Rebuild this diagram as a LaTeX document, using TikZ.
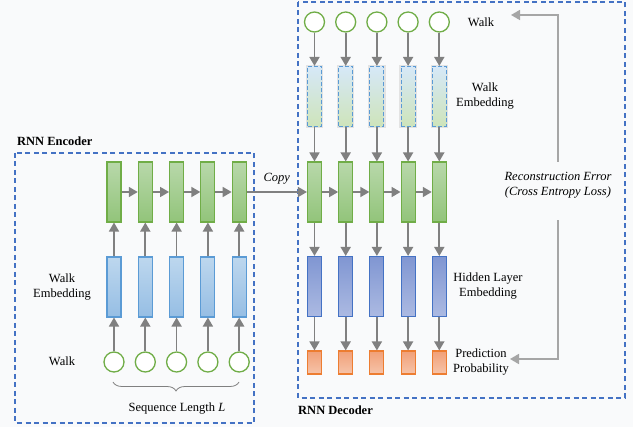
\documentclass[tikz,border=0pt]{standalone}
\usepackage{fontspec}
\setmainfont{Liberation Serif}
\usetikzlibrary{arrows.meta,decorations.pathreplacing,calc}
\definecolor{bg}{RGB}{249,250,251}
\definecolor{gbord}{RGB}{112,173,71}
\definecolor{gtop}{RGB}{184,216,170}
\definecolor{gbot}{RGB}{146,196,122}
\definecolor{bbord}{RGB}{91,155,213}
\definecolor{btop}{RGB}{189,215,238}
\definecolor{bbot}{RGB}{150,190,228}
\definecolor{hbord}{RGB}{68,114,196}
\definecolor{htop}{RGB}{128,150,210}
\definecolor{hbot}{RGB}{172,186,226}
\definecolor{obord}{RGB}{237,125,49}
\definecolor{otop}{RGB}{241,160,120}
\definecolor{obot}{RGB}{246,196,170}
\definecolor{etop}{RGB}{214,232,248}
\definecolor{ebot}{RGB}{206,228,186}
\definecolor{boxblue}{RGB}{68,114,196}
\definecolor{arrgray}{RGB}{128,128,128}
\definecolor{recgray}{RGB}{166,166,166}
\begin{document}
\begin{tikzpicture}[x=1pt,y=-1pt,
  every node/.style={font=\fontsize{12.5}{15}\selectfont},
  colbox/.style={rectangle, minimum width=14pt, minimum height=60pt, inner sep=0pt, line width=1.1pt},
  greenbox/.style={colbox, draw=gbord, top color=gtop, bottom color=gbot},
  bluebox/.style={colbox, draw=bbord, top color=btop, bottom color=bbot},
  hidbox/.style={colbox, draw=hbord, top color=htop, bottom color=hbot},
  embdash/.style={colbox, draw=bbord, dashed, dash pattern=on 4pt off 2pt, top color=etop, bottom color=ebot,
     preaction={draw=gray!22, line width=3.5pt, solid}},
  probbox/.style={colbox, minimum height=23pt, draw=obord, top color=otop, bottom color=obot},
  walkcirc/.style={circle, minimum size=20pt, inner sep=0pt, draw=gbord, line width=1.3pt, fill=white},
  arr/.style={draw=arrgray, line width=1.7pt, -{Triangle[length=9pt,width=10pt]}},
  recarr/.style={draw=recgray, line width=1.7pt, -{Triangle[length=9pt,width=10pt]}},
  regionbox/.style={draw=boxblue, line width=1.3pt, dash pattern=on 5pt off 3.5pt},
  lbl/.style={align=center, inner sep=1pt}
]
\fill[bg] (0,0) rectangle (633,427);
\useasboundingbox (0,0) rectangle (633,427);

% region boxes
\draw[regionbox] (15,153) rectangle (254,423);
\draw[regionbox] (298,2) rectangle (625,398);
\node[anchor=west, font=\fontsize{12.5}{15}\selectfont\bfseries, inner sep=0pt] (enct) at (17,141) {RNN Encoder};
\node[anchor=west, font=\fontsize{12.5}{15}\selectfont\bfseries, inner sep=0pt] (dect) at (298,410) {RNN Decoder};

% encoder
\foreach \i in {1,...,5} {
  \pgfmathsetmacro\ex{114+31.3*(\i-1)}
  \node[greenbox] (eg\i) at (\ex,192) {};
  \node[bluebox] (eb\i) at (\ex,287) {};
  \node[walkcirc] (ec\i) at (\ex,362) {};
  \draw[arr] (ec\i) -- (eb\i);
  \draw[arr] (eb\i) -- (eg\i);
}
\foreach \i [evaluate=\i as \j using int(\i+1)] in {1,...,4} {
  \draw[arr] (eg\i) -- (eg\j);
}

% decoder
\foreach \i in {1,...,5} {
  \pgfmathsetmacro\dx{314.5+31.2*(\i-1)}
  \node[walkcirc] (dc\i) at (\dx,22) {};
  \node[embdash] (de\i) at (\dx,96.5) {};
  \node[greenbox] (dg\i) at (\dx,192) {};
  \node[hidbox] (dh\i) at (\dx,286.5) {};
  \node[probbox] (dp\i) at (\dx,362.5) {};
  \draw[arr] (dc\i) -- (de\i);
  \draw[arr] (de\i) -- (dg\i);
  \draw[arr] (dg\i) -- (dh\i);
  \draw[arr] (dh\i) -- (dp\i);
}
\foreach \i [evaluate=\i as \j using int(\i+1)] in {1,...,4} {
  \draw[arr] (dg\i) -- (dg\j);
}

% copy
\draw[arr] (eg5) -- node[above=4pt, font=\fontsize{12.5}{15}\selectfont\itshape] (copy) {Copy} (dg1);

% encoder labels
\node[lbl] (lwalk) at (62,361) {Walk};
\node[lbl] (lemb) at (62,287) {Walk\\Embedding};
\coordinate (brl) at (113,382);
\coordinate (brr) at (239,382);
\draw[arrgray, line width=0.8pt, decorate, decoration={brace, mirror, amplitude=9pt}] (brl) -- (brr);
\node[lbl] (seq) at (177,409) {Sequence Length \textit{L}};

% decoder labels
\node[lbl] (rwalk) at (481,22) {Walk};
\node[lbl] (remb) at (485,96) {Walk\\Embedding};
\node[lbl] (rhid) at (488,286) {Hidden Layer\\Embedding};
\node[lbl] (rpred) at (481,362) {Prediction\\Probability};

% reconstruction error
\node[align=center, inner sep=10pt, font=\fontsize{12.5}{15}\selectfont\itshape] (rec) at (558,185) {Reconstruction Error\\(Cross Entropy Loss)};
\coordinate (rt) at (511,15);
\coordinate (rb) at (510,359);
\draw[recarr] (rec.north) |- (rt);
\draw[recarr] ([yshift=-12pt]rec.south) |- (rb);
\end{tikzpicture}
\end{document}
